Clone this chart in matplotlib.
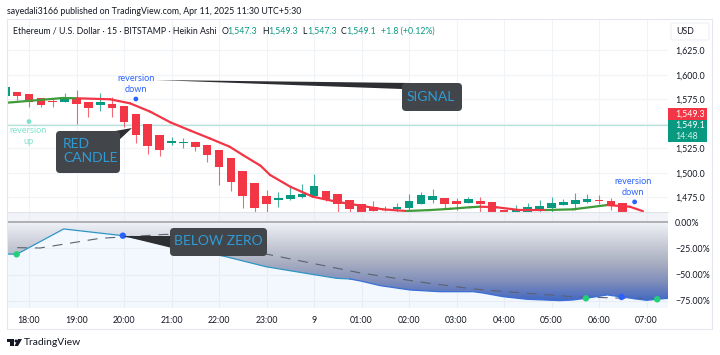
import numpy as np
import matplotlib
matplotlib.use("Agg")
import matplotlib.pyplot as plt
from matplotlib.colors import LinearSegmentedColormap
from matplotlib.patches import FancyBboxPatch, Polygon, Circle, Rectangle

plt.rcParams['font.family'] = ['Lato', 'DejaVu Sans']

# candles, x is number of 15 min bars after 18:00
candle_x = np.arange(-2, 51)
opens = [1578.6, 1582.7, 1580.6, 1576.2, 1573.5, 1572.4, 1576.2, 1572.8, 1569.4, 1570.4,
         1568.4, 1560.2, 1549.7, 1538.8, 1530.6, 1530.9, 1531.3, 1528.9, 1523.5, 1515.0,
         1502.3, 1489.8, 1476.5, 1472.4, 1473.5, 1475.8, 1476.5, 1481.6, 1478.3, 1472.8,
         1468.1, 1465.6, 1461.9, 1463.0, 1464.6, 1468.1, 1472.8, 1474.2, 1471.7, 1469.7,
         1471.4, 1470.1, 1462.2, 1460.5, 1460.5, 1462.2, 1464.3, 1467.0, 1468.4, 1470.4,
         1472.2, 1471.9, 1469.4]
closes = [1587.4, 1578.6, 1572.4, 1569.4, 1572.1, 1577.2, 1570.4, 1566.0, 1572.1, 1566.3,
          1552.3, 1538.5, 1527.9, 1523.2, 1532.3, 1531.6, 1526.5, 1518.4, 1506.4, 1490.5,
          1476.5, 1464.3, 1468.1, 1474.8, 1477.6, 1478.6, 1486.7, 1473.2, 1468.1, 1463.6,
          1460.5, 1461.2, 1463.6, 1465.3, 1471.7, 1477.6, 1476.5, 1468.7, 1468.1, 1473.5,
          1468.1, 1460.5, 1460.5, 1462.2, 1465.3, 1466.3, 1469.4, 1470.4, 1472.4, 1473.5,
          1471.2, 1467.1, 1460.5]
highs = [1587.4, 1582.7, 1580.6, 1576.2, 1576.5, 1581.9, 1584.7, 1572.8, 1581.3, 1577.6,
         1568.4, 1560.2, 1549.7, 1538.8, 1537.0, 1536.0, 1531.3, 1528.9, 1523.5, 1515.0,
         1502.3, 1489.8, 1482.7, 1480.6, 1485.4, 1488.5, 1499.0, 1481.6, 1478.3, 1472.8,
         1468.1, 1471.4, 1466.3, 1469.7, 1478.6, 1480.3, 1483.4, 1474.2, 1474.5, 1475.5,
         1475.2, 1470.1, 1462.2, 1467.3, 1469.1, 1472.4, 1475.8, 1473.2, 1479.3, 1478.6,
         1477.6, 1474.2, 1469.4]
lows = [1578.6, 1574.5, 1567.7, 1567.3, 1567.7, 1572.4, 1550.0, 1557.4, 1563.6, 1557.4,
        1546.6, 1530.6, 1519.1, 1517.7, 1528.6, 1525.2, 1522.8, 1511.5, 1487.8, 1481.9,
        1464.3, 1460.5, 1460.5, 1465.6, 1472.4, 1474.5, 1475.8, 1471.7, 1460.5, 1460.5,
        1460.5, 1461.2, 1461.2, 1460.5, 1461.2, 1468.1, 1469.7, 1464.0, 1462.2, 1469.7,
        1460.5, 1460.5, 1460.5, 1460.5, 1460.5, 1460.5, 1460.5, 1467.0, 1462.2, 1469.7,
        1468.4, 1462.2, 1460.5]

signal_x = [-1.85, 2.86, 4.04, 6.82, 8.5, 10.2, 11.9, 13.6, 15.2, 16.9, 18.0, 19.5, 20.3, 22.0,
            23.9, 25.9, 28.1, 29.8, 31.8, 33.8, 35.5, 37.1, 38.0, 39.4, 41.3, 43.5, 45.8, 48.7,
            50.6, 51.7]
signal_y = [1571.7, 1576.5, 1576.2, 1575.2, 1571.1, 1562.6, 1551.7, 1543.2, 1535.4, 1526.8,
            1518.4, 1507.4, 1498.0, 1486.0, 1475.8, 1470.7, 1466.3, 1462.9, 1461.2, 1462.2,
            1463.5, 1465.0, 1465.6, 1465.0, 1462.2, 1462.2, 1462.9, 1467.3, 1465.6, 1461.0]
signal_up = [1, 1, 0, 0, 0, 0, 0, 0, 0, 0, 0, 0, 0, 0, 0, 0, 0, 0, 1, 1, 1, 1, 0, 0, 0, 1, 1, 0, 0]

last_price = 1549.2
price_ticks = [1475, 1500, 1525, 1550, 1575, 1600, 1625]

rev_x = [0, 9, 51]
rev_y = [1552.5, 1575.5, 1470.5]
rev_col = ['#7fe3cc', '#2962ff', '#2962ff']

# lower pane, percent
pct_x = [-1.85, -1.04, 2.92, 7.9, 16.6, 19.96, 22.8, 25.9, 27.0, 27.9, 29.6, 32.1, 34.6, 37.4,
         38.2, 39.9, 41.9, 44.7, 45.8, 46.9, 48.7, 49.9, 52.0, 52.9, 53.81]
pct_y = [-30.4, -30.7, -6.6, -13.0, -33.0, -42.5, -47.8, -53.5, -54.1, -56.0, -60.5, -64.6,
         -66.2, -66.2, -67.4, -70.9, -73.4, -74.7, -74.1, -72.5, -69.3, -71.2, -74.4, -73.4, -72.5]
dash_x = [-1.0, 0.93, 5.98, 8.25, 11.6, 21.1, 27.9, 33.5, 37.4, 41.9, 45.8, 49.5, 52.5]
dash_y = [-24.4, -24.7, -15.5, -14.0, -11.7, -33.0, -48.4, -57.9, -63.6, -67.7, -70.9, -72.2, -73.4]
dot_x = [-1.04, 7.9, 46.9, 49.9, 52.9]
dot_y = [-30.7, -13.0, -72.5, -71.2, -73.4]
dot_col = ['#22d07a', '#2962ff', '#22d07a', '#2962ff', '#22d07a']
pct_ticks = [0, -25, -50, -75]

time_ticks = np.arange(0, 56, 4)
time_labels = ['18:00', '19:00', '20:00', '21:00', '22:00', '23:00', '9', '01:00', '02:00',
               '03:00', '04:00', '05:00', '06:00', '07:00']

W, H = 720, 355
GREEN = '#089981'
RED = '#f23645'
GRID = '#f0f3f8'
XLIM = (-1.853, 53.81)
FS = 6.3


def box(x0, y0, x1, y1):
    return [x0 / W, 1 - y1 / H, (x1 - x0) / W, (y1 - y0) / H]


fig = plt.figure(figsize=(7.2, 3.55), dpi=100, facecolor='white')

# price pane
ax = fig.add_axes(box(7, 19, 668, 212))
ax.set_xlim(*XLIM)
ax.set_ylim(1460.2, 1657.1)
ax.set_yticks(price_ticks)
ax.set_yticklabels([f'{p:,.1f}' for p in price_ticks])
ax.yaxis.tick_right()
ax.set_xticks(time_ticks)
ax.tick_params(axis='x', length=0, labelbottom=False)
ax.tick_params(axis='y', length=0, pad=5, labelsize=FS, labelcolor='#131722')
ax.grid(True, color=GRID, lw=0.8)
ax.set_axisbelow(True)
for s in ax.spines.values():
    s.set_visible(False)

ax.axhline(last_price, color='#b5e3d8', lw=0.9, zorder=1)

for x, o, c, h, l in zip(candle_x, opens, closes, highs, lows):
    col = GREEN if c >= o else RED
    ax.vlines(x, l, h, color=col, lw=0.8, alpha=0.75, zorder=2)
    ax.bar(x, abs(c - o), bottom=min(o, c), width=0.72, color=col, zorder=3)

for i in range(len(signal_up)):
    ax.plot(signal_x[i:i + 2], signal_y[i:i + 2], color='#3f9a3a' if signal_up[i] else RED,
            lw=1.6, solid_capstyle='round', zorder=4)

ax.scatter(rev_x, rev_y, s=6, c=rev_col, zorder=5)

# percent pane
ax2 = fig.add_axes(box(7, 212, 668, 308), facecolor='#f3f7fe')
ax2.set_xlim(*XLIM)
ax2.set_ylim(-81.7, 9.5)
ax2.set_yticks(pct_ticks)
ax2.set_yticklabels(['0.00%', '\u221225.00%', '\u221250.00%', '\u221275.00%'])
ax2.yaxis.tick_right()
ax2.set_xticks(time_ticks)
ax2.set_xticklabels(time_labels)
ax2.tick_params(axis='x', length=0, pad=6, labelsize=FS, labelcolor='#131722')
ax2.tick_params(axis='y', length=0, pad=5, labelsize=FS, labelcolor='#131722')
ax2.grid(True, color='#e8ecf5', lw=0.8)
ax2.set_axisbelow(True)
for s in ax2.spines.values():
    s.set_visible(False)
ax2.axhspan(0, 9.5, color='#f1f3f9', zorder=0.5)

shade = LinearSegmentedColormap.from_list(
    'shade', ['#f0f2f8', '#cdd0da', '#aab0c2', '#7f8dba', '#3f66c4'])
grad = np.linspace(0, 1, 200).reshape(-1, 1)
area = ax2.fill_between(pct_x, pct_y, 0, color='none')
im = ax2.imshow(grad, cmap=shade, aspect='auto', extent=(XLIM[0], XLIM[1], -76, 0),
                origin='upper', zorder=1.5)
im.set_clip_path(area.get_paths()[0], transform=ax2.transData)
ax2.set_xlim(*XLIM)
ax2.set_ylim(-81.7, 9.5)

ax2.axhline(0, color='#a9abae', lw=1.3, zorder=2)
ax2.plot(dash_x, dash_y, color='#5c6270', lw=0.8, dashes=(9, 7), zorder=3)
ax2.plot(pct_x[:9], pct_y[:9], color='#2f96c4', lw=0.9, zorder=4)
ax2.plot(pct_x[8:], pct_y[8:], color='#3a6fd4', lw=0.9, zorder=4)
ax2.scatter(dot_x, dot_y, s=13, c=dot_col, zorder=5)

# overlay in pixels for the drawing tools and the chrome
ov = fig.add_axes([0, 0, 1, 1], facecolor='none')
ov.set_xlim(0, W)
ov.set_ylim(H, 0)
ov.axis('off')

ov.add_patch(Rectangle((7, 19), 705, 310, fill=False, ec='#e4e7ee', lw=0.8))
ov.plot([7, 668], [212, 212], color='#dfe3ea', lw=0.8)
ov.add_patch(FancyBboxPatch((671, 23), 38, 17, boxstyle='round,pad=0,rounding_size=2',
                            fc='white', ec='#eef0f4', lw=0.8))
ov.text(685, 32, 'USD', ha='center', va='center', fontsize=FS, color='#131722')

ov.add_patch(Rectangle((668, 108), 39, 12, fc=RED, ec='none'))
ov.add_patch(Rectangle((668, 120), 39, 22, fc=GREEN, ec='none'))
ov.text(675, 114, '1,549.3', va='center', fontsize=FS, color='white')
ov.text(675, 125.5, '1,549.1', va='center', fontsize=FS, color='white')
ov.text(675, 136.5, '14:48', va='center', fontsize=FS, color='#d8f2ec')

ov.text(7, 11, 'sayedali3166 published on TradingView.com, Apr 11, 2025 11:30 UTC+5:30',
        va='center', fontsize=FS, color='#131722')
ov.text(13, 31, 'Ethereum / U.S. Dollar \u00b7 15 \u00b7 BITSTAMP \u00b7 Heikin Ashi',
        va='center', fontsize=FS, color='#131722')
for x, t in [(222, 'O'), (262, 'H'), (302, 'L'), (341, 'C')]:
    ov.text(x, 31, t, va='center', fontsize=FS, color='#131722')
for x, t in [(227, '1,547.3'), (268, '1,549.3'), (307, '1,547.3'), (346, '1,549.1'),
             (381, '+1.8 (+0.12%)')]:
    ov.text(x, 31, t, va='center', fontsize=FS, color=GREEN)

ov.text(28, 136, 'reversion\nup', ha='center', va='center', fontsize=6.6, color='#7fe3cc',
        linespacing=1.3)
ov.text(136, 84, 'reversion\ndown', ha='center', va='center', fontsize=6.6, color='#2962ff',
        linespacing=1.3)
ov.text(633, 187, 'reversion\ndown', ha='center', va='center', fontsize=6.6, color='#2962ff',
        linespacing=1.3)

CALL = '#42464a'
TXT = '#2f9bd6'


def callout(x0, y0, x1, y1, pointer, label, tx, ty, ha='center'):
    ov.add_patch(Polygon(pointer, closed=True, fc='#2c2e31', ec='none'))
    ov.add_patch(FancyBboxPatch((x0, y0), x1 - x0, y1 - y0,
                                boxstyle='round,pad=0,rounding_size=4', fc=CALL, ec='none'))
    ov.text(tx, ty, label, ha=ha, va='center', fontsize=10, color=TXT, linespacing=1.15)


callout(402, 83, 462, 111, [(155, 80), (410, 83), (402, 89)], 'SIGNAL', 431, 97)
callout(56, 131, 120, 173, [(132, 128), (104, 133), (118, 141)], 'RED\nCANDLE', 63, 151, ha='left')
callout(170, 228, 267, 256, [(123, 236), (172, 236), (172, 248)], 'BELOW ZERO', 218, 241)

# logo
ov.add_patch(Polygon([(7, 339), (14, 339), (14, 346), (10, 346), (10, 342), (7, 342)], fc='#131722'))
ov.add_patch(Circle((16, 341), 1.5, fc='#131722', ec='none'))
ov.add_patch(Polygon([(18, 339), (22, 339), (18, 346), (14.5, 346)], fc='#131722'))
ov.text(24, 342.5, 'TradingView', va='center', fontsize=7.4, color='#131722')

fig.savefig('out.png', dpi=100)
